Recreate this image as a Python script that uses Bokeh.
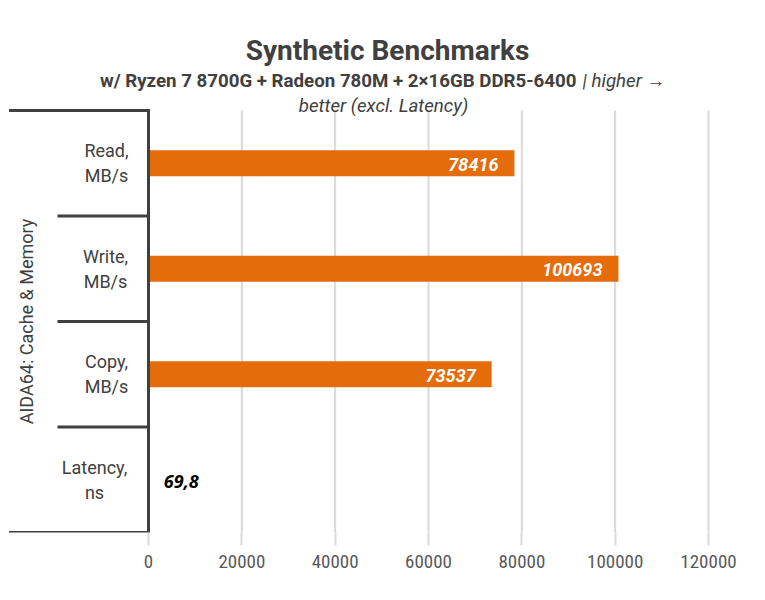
import math
from bokeh.plotting import figure
from bokeh.models import Range1d, FixedTicker, NumeralTickFormatter, ColumnDataSource
from bokeh.core.properties import value
from bokeh.embed import file_html
from bokeh.resources import INLINE

# ---------------- data ----------------
title_text = "Synthetic Benchmarks"
subtitle_bold = "w/ Ryzen 7 8700G + Radeon 780M + 2×16GB DDR5-6400"
subtitle_italic_1 = "| higher →"
subtitle_italic_2 = "better (excl. Latency)"
group_label = "AIDA64: Cache & Memory"
categories = ["Read,\nMB/s", "Write,\nMB/s", "Copy,\nMB/s", "Latency,\nns"]
values = [78416, 100693, 73537, 69.8]
value_labels = ["78416", "100693", "73537", "69,8"]
x_ticks = [0, 20000, 40000, 60000, 80000, 100000, 120000]

# ---------------- layout (pixels) ----------------
W, H = 749, 584
FRAME_BOTTOM = 532            # figure px where plotting area ends (bottom)
AX_LEFT, AX_RIGHT = 148, 708  # figure px of x=0 and x=max tick
CAT_H = 105.5                 # pixel height of one category band
n = len(categories)
xmax = x_ticks[-1]
upp = xmax / (AX_RIGHT - AX_LEFT)   # data units per pixel


def X(px):
    return (px - AX_LEFT) * upp


def Y(py):
    return (FRAME_BOTTOM - py) / CAT_H


DARK = "#404040"
GRID = "#D9D9D9"
ORANGE = "#E46C0A"
COND = "Roboto Condensed, Roboto"

p = figure(width=W, height=H, output_backend="svg", toolbar_location=None,
           x_range=Range1d(-AX_LEFT * upp, (W - AX_LEFT) * upp),
           y_range=Range1d(0, FRAME_BOTTOM / CAT_H),
           y_axis_location=None,
           min_border_left=0, min_border_right=0, min_border_top=0,
           min_border_bottom=H - FRAME_BOTTOM)
p.outline_line_color = None
p.background_fill_color = "white"
p.border_fill_color = "white"
p.xgrid.visible = False
p.ygrid.visible = False

# x axis (ticks act as grid extensions below the plot)
ax = p.xaxis[0]
ax.ticker = FixedTicker(ticks=x_ticks)
ax.formatter = NumeralTickFormatter(format="0")
ax.axis_line_color = None
ax.major_tick_line_color = GRID
ax.major_tick_line_width = 2
ax.major_tick_out = 13
ax.major_tick_in = 0
ax.minor_tick_line_color = None
ax.major_label_text_font = COND
ax.major_label_text_font_size = "19px"
ax.major_label_text_color = "#595959"
ax.major_label_standoff = 9

# vertical grid lines
p.segment(x0=x_ticks[1:], y0=[0] * (len(x_ticks) - 1), x1=x_ticks[1:],
          y1=[n] * (len(x_ticks) - 1), line_color=GRID, line_width=2)

# bars
ypos = [n - i - 0.5 for i in range(n)]
src = ColumnDataSource(dict(y=ypos, v=values, lab=value_labels, cat=categories))
p.hbar(y="y", left=0, right="v", height=26 / CAT_H, source=src,
       fill_color=ORANGE, line_color=None)

inside = [i for i, v in enumerate(values) if v > 10000]
outside = [i for i, v in enumerate(values) if v <= 10000]
p.text(x=[values[i] for i in inside], y=[ypos[i] for i in inside],
       text=[value_labels[i] for i in inside], x_offset=-16, y_offset=1,
       text_align="right", text_baseline="middle", text_color="white",
       text_font=value("Roboto"), text_font_style="bold italic", text_font_size="18px")
p.text(x=[values[i] for i in outside], y=[ypos[i] for i in outside],
       text=[value_labels[i] for i in outside], x_offset=15, y_offset=2,
       text_align="left", text_baseline="middle", text_color="black",
       text_font=value("Open Sans"), text_font_style="bold italic", text_font_size="18px")

# category box lines
x_axis0 = 0
p.segment(x0=[x_axis0], y0=[0], x1=[x_axis0], y1=[n], line_color=DARK, line_width=3)
p.segment(x0=[X(57)] * (n - 1), y0=list(range(1, n)), x1=[x_axis0] * (n - 1),
          y1=list(range(1, n)), line_color=DARK, line_width=3)
p.segment(x0=[X(10)] * 2, y0=[0, n], x1=[x_axis0] * 2, y1=[0, n],
          line_color=DARK, line_width=3, line_cap="square")

# category labels (multi-line, centred block right-aligned to the axis)
label_centers = [106, 105, 106, 94]
p.text(x=[X(c) for c in label_centers], y=ypos, text=categories,
       text_align="center", text_baseline="middle", text_color=DARK,
       text_font=value("Roboto"), text_font_size="18px", text_line_height=1.2)

# group label (rotated)
p.text(x=[X(26)], y=[n / 2], text=[group_label], angle=math.pi / 2,
       text_align="center", text_baseline="middle", text_color=DARK,
       text_font=value("Roboto"), text_font_size="18px")

# title and subtitle
p.text(x=[X(387)], y=[Y(50)], text=[title_text], text_align="center",
       text_baseline="alphabetic", text_color=DARK, text_font=value("Roboto"),
       text_font_style="bold", text_font_size="28px")
p.text(x=[X(576)], y=[Y(80)], text=[subtitle_bold], text_align="right",
       text_baseline="alphabetic", text_color=DARK, text_font=value("Roboto"),
       text_font_style="bold", text_font_size="18.7px")
p.text(x=[X(582)], y=[Y(80)], text=[subtitle_italic_1], text_align="left",
       text_baseline="alphabetic", text_color=DARK, text_font=value("Roboto"),
       text_font_style="italic", text_font_size="18.7px")
p.text(x=[X(383)], y=[Y(105)], text=[subtitle_italic_2], text_align="center",
       text_baseline="alphabetic", text_color=DARK, text_font=value("Roboto"),
       text_font_style="italic", text_font_size="18.7px")

open("out.html", "w").write(file_html(p, INLINE))
